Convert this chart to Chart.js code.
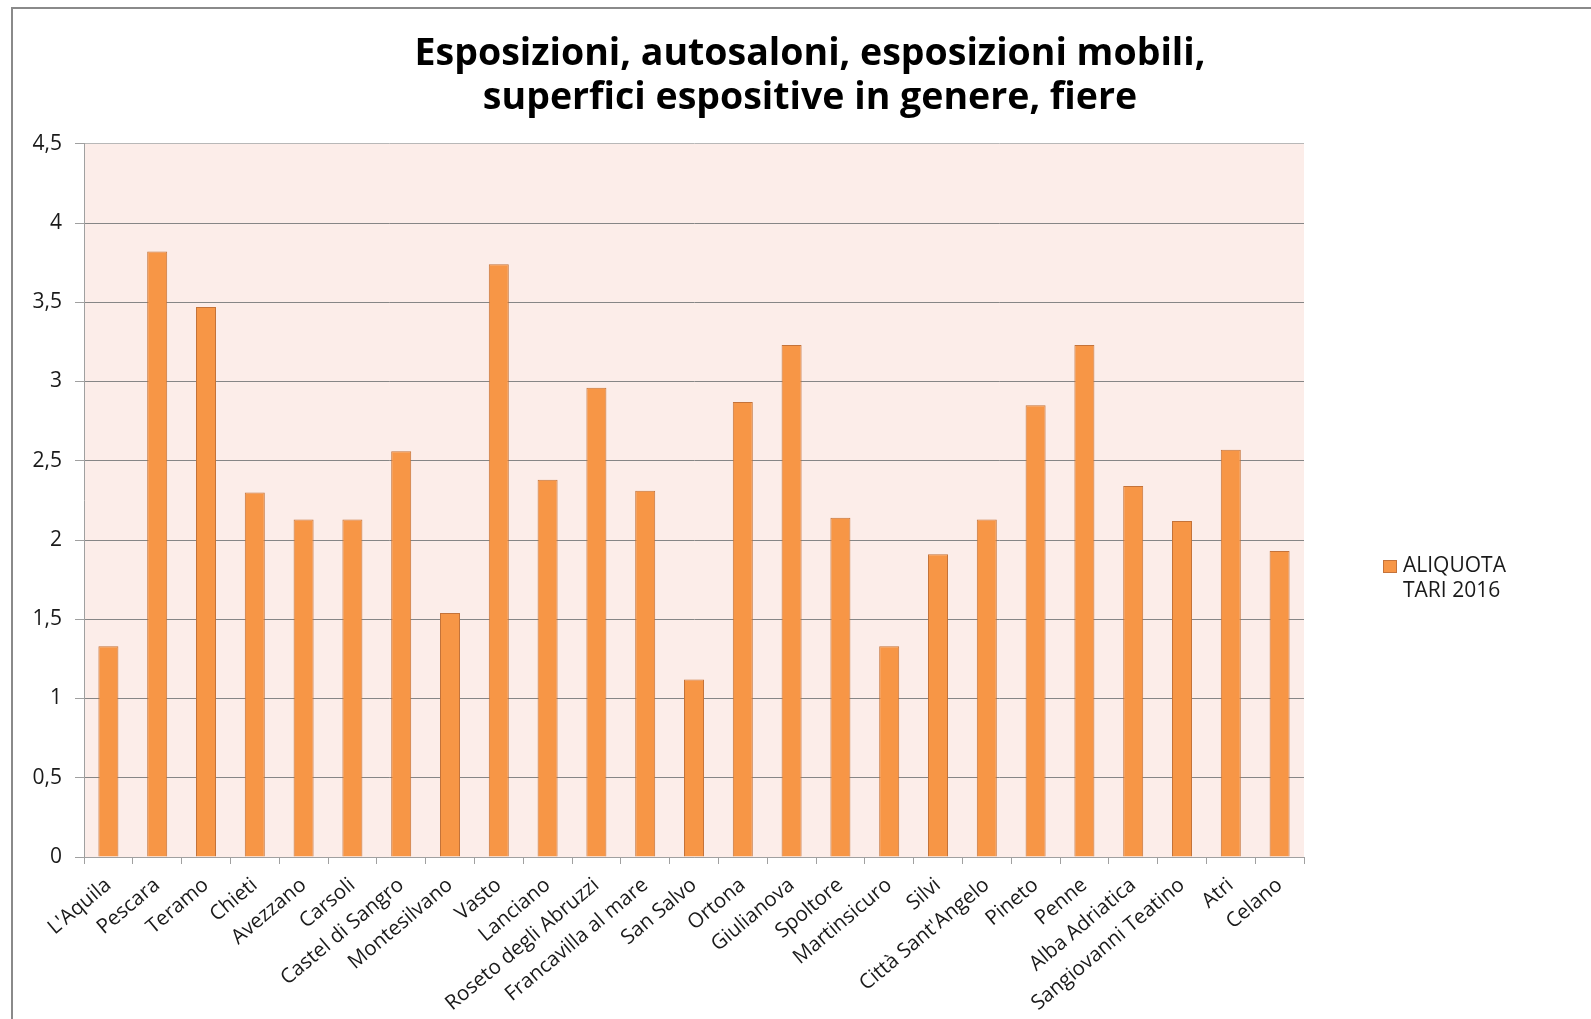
<!DOCTYPE html>
<html>
<head>
<meta charset="utf-8">
<script src="https://cdn.jsdelivr.net/npm/chart.js@4.4.0/dist/chart.umd.min.js"></script>
<style>
  html, body { margin: 0; padding: 0; background: #fff; overflow: hidden; }
  #myChart { display: block; }
</style>
</head>
<body>
<canvas id="myChart" width="1591" height="1019"></canvas>
<script>
// data
const comuni = [
  "L'Aquila", "Pescara", "Teramo", "Chieti", "Avezzano", "Carsoli",
  "Castel di Sangro", "Montesilvano", "Vasto", "Lanciano",
  "Roseto degli Abruzzi", "Francavilla al mare", "San Salvo", "Ortona",
  "Giulianova", "Spoltore", "Martinsicuro", "Silvi", "Città Sant'Angelo",
  "Pineto", "Penne", "Alba Adriatica", "Sangiovanni Teatino", "Atri", "Celano"
];
const aliquota2016 = [
  1.33, 3.82, 3.47, 2.30, 2.13, 2.13, 2.56, 1.54, 3.74, 2.38,
  2.96, 2.31, 1.12, 2.87, 3.23, 2.14, 1.33, 1.91, 2.13, 2.85,
  3.23, 2.34, 2.12, 2.57, 1.93
];
const yTickLabels = ["0", "0,5", "1", "1,5", "2", "2,5", "3", "3,5", "4", "4,5"];
const seriesLabel = ["ALIQUOTA", "TARI 2016"];
const titleLines = [
  "Esposizioni, autosaloni, esposizioni mobili,",
  "superfici espositive in genere, fiere"
];

const FONT = "'Open Sans', sans-serif";
const orange = "#f79646";
const orangeEdge = "#c4733a";

// pink plot area + outer frame
const backdrop = {
  id: "backdrop",
  beforeDraw(chart) {
    const { ctx, chartArea } = chart;
    ctx.save();
    ctx.fillStyle = "#fcede9";
    ctx.fillRect(chartArea.left, chartArea.top, chartArea.width, chartArea.height);
    ctx.strokeStyle = "#8a8a8a";
    ctx.lineWidth = 2;
    ctx.strokeRect(12, 8, chart.width + 20, chart.height + 20);
    ctx.restore();
  },
};

// two line legend on the right, like the original
const sideLegend = {
  id: "sideLegend",
  afterDraw(chart) {
    const { ctx, chartArea } = chart;
    const ds = chart.data.datasets[0];
    const x = chartArea.right + 79;
    const y = 560;
    ctx.save();
    ctx.fillStyle = ds.backgroundColor;
    ctx.strokeStyle = ds.borderColor;
    ctx.lineWidth = 1;
    ctx.fillRect(x, y, 14, 13);
    ctx.strokeRect(x + 0.5, y + 0.5, 13, 12);
    ctx.fillStyle = "#1a1a1a";
    ctx.font = "21px " + FONT;
    ctx.textBaseline = "middle";
    ctx.fillText(seriesLabel[0], x + 20, y + 6);
    ctx.fillText(seriesLabel[1], x + 20, y + 31);
    ctx.restore();
  },
};

const config = {
  type: "bar",
  data: {
    labels: comuni,
    datasets: [
      {
        label: seriesLabel.join(" "),
        data: aliquota2016,
        backgroundColor: orange,
        borderColor: orangeEdge,
        borderWidth: 1,
        categoryPercentage: 1,
        barPercentage: 0.41,
      },
    ],
  },
  options: {
    responsive: false,
    animation: false,
    layout: { padding: { left: 29, top: 8, right: 0, bottom: 0 } },
    plugins: {
      legend: { display: false },
      tooltip: { enabled: false },
      title: {
        display: true,
        text: titleLines,
        color: "#000",
        font: { family: FONT, size: 37.5, weight: "bold", lineHeight: 1.17 },
        padding: { top: 24, bottom: 24 },
      },
    },
    scales: {
      x: {
        offset: true,
        grid: {
          offset: true,
          drawOnChartArea: false,
          drawTicks: true,
          tickLength: 7,
          tickColor: "#a0a0a0",
        },
        border: { color: "#a0a0a0" },
        ticks: {
          autoSkip: false,
          maxRotation: 40,
          minRotation: 40,
          color: "#1a1a1a",
          font: { family: FONT, size: 20.5 },
          padding: 9,
        },
        afterFit(scale) { scale.height = 162; },
      },
      y: {
        min: 0,
        max: 4.5,
        ticks: {
          stepSize: 0.5,
          color: "#1a1a1a",
          font: { family: FONT, size: 21 },
          padding: 13,
          callback: (v, i) => yTickLabels[i],
        },
        grid: {
          color: (c) => (c.tick.value === 0 ? "#a0a0a0" : c.tick.value === 4.5 ? "#b8b8b8" : "#868686"),
          tickColor: "#a0a0a0",
          tickLength: 9,
        },
        border: { color: "#a0a0a0" },
        afterFit(scale) { scale.width = 55; },
      },
      // empty axis that only reserves room for the legend
      yRoom: {
        position: "right",
        display: true,
        grid: { display: false },
        border: { display: false },
        ticks: { display: false },
        afterFit(scale) { scale.width = 287; },
      },
    },
  },
  plugins: [backdrop, sideLegend],
};

const myChart = new Chart(document.getElementById("myChart"), config);
</script>
</body>
</html>
